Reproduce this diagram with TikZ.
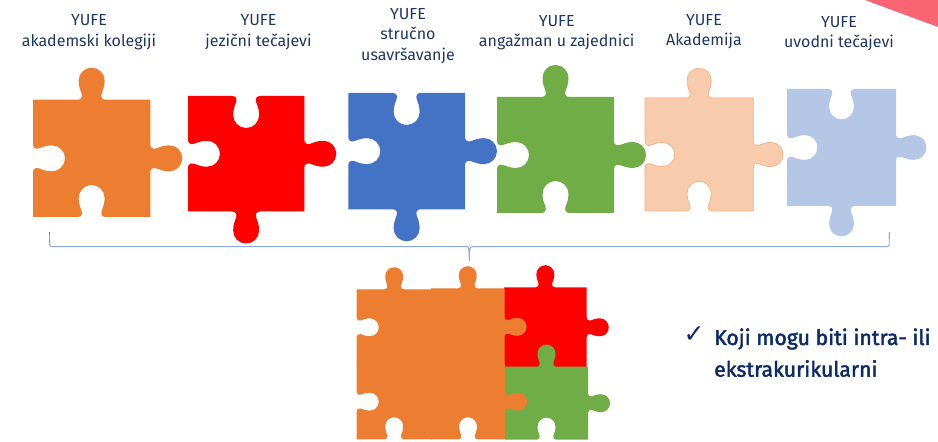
\documentclass[tikz,border=0pt]{standalone}
\usepackage{fontspec}
\setmainfont{Fira Sans}
\newfontfamily\medfont[FakeBold=2]{Fira Sans}
\newfontfamily\symfont{DejaVu Sans}
\definecolor{navy}{HTML}{1F3768}
\definecolor{navyb}{HTML}{0B2A66}
\definecolor{orangep}{HTML}{ED7D31}
\definecolor{redp}{HTML}{FF0000}
\definecolor{bluep}{HTML}{4472C4}
\definecolor{greenp}{HTML}{70AD47}
\definecolor{peachp}{HTML}{F8CBAD}
\definecolor{peachl}{HTML}{F4B183}
\definecolor{lbluep}{HTML}{B4C7E7}
\definecolor{bracecol}{HTML}{8EA9DB}
\definecolor{cornerp}{HTML}{F96573}
\tikzset{
  lbl/.style={font=\fontsize{16}{20.6}\selectfont,text=navy,align=center,inner sep=0pt,anchor=north},
  pieceo/.style={fill=orangep},
  piecer/.style={fill=redp},
  pieceb/.style={fill=bluep},
  pieceg/.style={fill=greenp},
  piecep/.style={fill=peachp,draw=peachl,line width=.7pt},
  piecel/.style={fill=lbluep},
}
% one edge with a knob; #1 is the local frame of this edge, origin at edge centre
\def\kn#1{ -- ([#1]-14,0) .. controls ([#1]-10.5,0) and ([#1]-9,2.5) .. ([#1]-10,6)
  .. controls ([#1]-11,9) and ([#1]-13,13) .. ([#1]-13,19)
  .. controls ([#1]-13,26.2) and ([#1]-7.2,32) .. ([#1]0,32)
  .. controls ([#1]7.2,32) and ([#1]13,26.2) .. ([#1]13,19)
  .. controls ([#1]13,13) and ([#1]11,9) .. ([#1]10,6)
  .. controls ([#1]9,2.5) and ([#1]10.5,0) .. ([#1]14,0) }
% \piece{style}{x}{y}{w}{h}{k}{top}{right}{bottom}{left}: x,y = pixel position of top-left corner
\newcommand\piece[9]{\piecex{#1}{#2}{442-(#3)}{#4}{#5}{#6}{#7}{#8}{#9}}
\newcommand\piecex[9]{\def\pa{#1}\def\pb{#2}\def\pc{#3}\def\pd{#4}\def\pe{#5}\def\pf{#6}\def\pg{#7}\def\ph{#8}\def\pi{#9}\piecey}
\newcommand\piecey[1]{%
  \pgfmathsetmacro\Xl{\pb}\pgfmathsetmacro\Yt{\pc}%
  \pgfmathsetmacro\Xr{\pb+\pd}\pgfmathsetmacro\Yb{\pc-\pe}%
  \pgfmathsetmacro\Xm{\pb+\pd/2}\pgfmathsetmacro\Ym{\pc-\pe/2}%
  \pgfmathsetmacro\Kt{\pf*\pg}\pgfmathsetmacro\Kr{\pf*\ph}%
  \pgfmathsetmacro\Kcb{-\pf*\pi}\pgfmathsetmacro\Kcl{-\pf*(#1)}%
  \pgfmathsetmacro\Kf{\pf}\pgfmathsetmacro\Kn{-\pf}%
  \expandafter\piecez\expandafter{\pa}%
}
\newcommand\piecez[1]{%
  \fill[#1] (\Xl,\Yt)
   \kn{cm={\Kf,0,0,\Kt,(\Xm,\Yt)}} -- (\Xr,\Yt)
   \kn{cm={0,\Kn,\Kr,0,(\Xr,\Ym)}} -- (\Xr,\Yb)
   \kn{cm={\Kn,0,0,\Kcb,(\Xm,\Yb)}} -- (\Xl,\Yb)
   \kn{cm={0,\Kf,\Kcl,0,(\Xl,\Ym)}} -- cycle;
}
\begin{document}
\begin{tikzpicture}[x=1pt,y=1pt]
\useasboundingbox (0,0) rectangle (938,442);
\fill[white] (0,0) rectangle (938,442);
\fill[cornerp] (865,442) -- (938,442) -- (938,415) -- cycle;

\piece{pieceo}{33}{99.7}{117.3}{117.3}{1}{1}{1}{-1}{-1}
\piece{piecer}{188}{96}{116.3}{115.5}{1}{-1}{1}{1}{-1}
\piece{pieceb}{348.3}{93}{116.7}{116.3}{1}{-1}{1}{1}{-1}
\piece{pieceg}{497}{97}{117}{116}{1}{1}{1}{-1}{-1}
\piece{piecep}{645}{98}{108.3}{113}{.93}{1}{1}{-1}{-1}
\piece{piecel}{787}{89}{109}{117}{.95}{-1}{1}{1}{-1}

% bracket
\coordinate (bl) at (49.5,210);
\coordinate (br) at (889.3,210);
\coordinate (bm) at (469.3,181);
\draw[bluep,line width=.6pt] (bl) -- (49.8,197);
\draw[bracecol,line width=1pt] (49.8,197) .. controls (50,196) and (51,195.3) .. (53,195.3)
  -- (467,195.3) .. controls (468.6,195.3) and (469.1,194) .. (bm)
  .. controls (469.5,194) and (470,195.3) .. (472,195.3)
  -- (886,195.3) .. controls (888,195.3) and (889,196) .. (889.1,197);
\draw[bluep,line width=.6pt] (889.1,197) -- (br);

% lower cluster
\piece{piecer}{504}{287.3}{82.7}{80}{.69}{1}{1}{0}{0}
\piece{pieceg}{505}{366.7}{83}{73}{.69}{1}{1}{-1}{0}
\piece{pieceo}{356.7}{289.3}{75}{76}{.69}{1}{0}{0}{-1}
\piece{pieceo}{431}{288.3}{73.5}{77}{.69}{1}{1}{0}{0}
\piece{pieceo}{356.7}{364}{75}{75.3}{.69}{0}{0}{-1}{-1}
\piece{pieceo}{431}{364}{74}{75.3}{.69}{0}{1}{-1}{0}

% labels
\node[lbl] (t1) at (89,427.5) {YUFE\\akademski kolegiji};
\node[lbl] (t2) at (258.5,427.5) {YUFE\\jezični tečajevi};
\node[lbl] (t3) at (408,434) {YUFE\\stručno\\usavršavanje};
\node[lbl] (t4) at (556.7,427) {YUFE\\angažman u zajednici};
\node[lbl] (t5) at (704,428) {YUFE\\Akademija};
\node[lbl] (t6) at (839,426) {YUFE\\uvodni tečajevi};

\node[inner sep=0pt,anchor=base,text=navyb,font=\symfont\fontsize{25}{25}\selectfont] (chk) at (694,99.5) {✓};
\node[inner sep=0pt,anchor=base west,text=navyb,align=left,font=\medfont\fontsize{21.2}{31.7}\selectfont] (txt) at (714,65.3) {Koji mogu biti intra- ili\\ekstrakurikularni};
\end{tikzpicture}
\end{document}
